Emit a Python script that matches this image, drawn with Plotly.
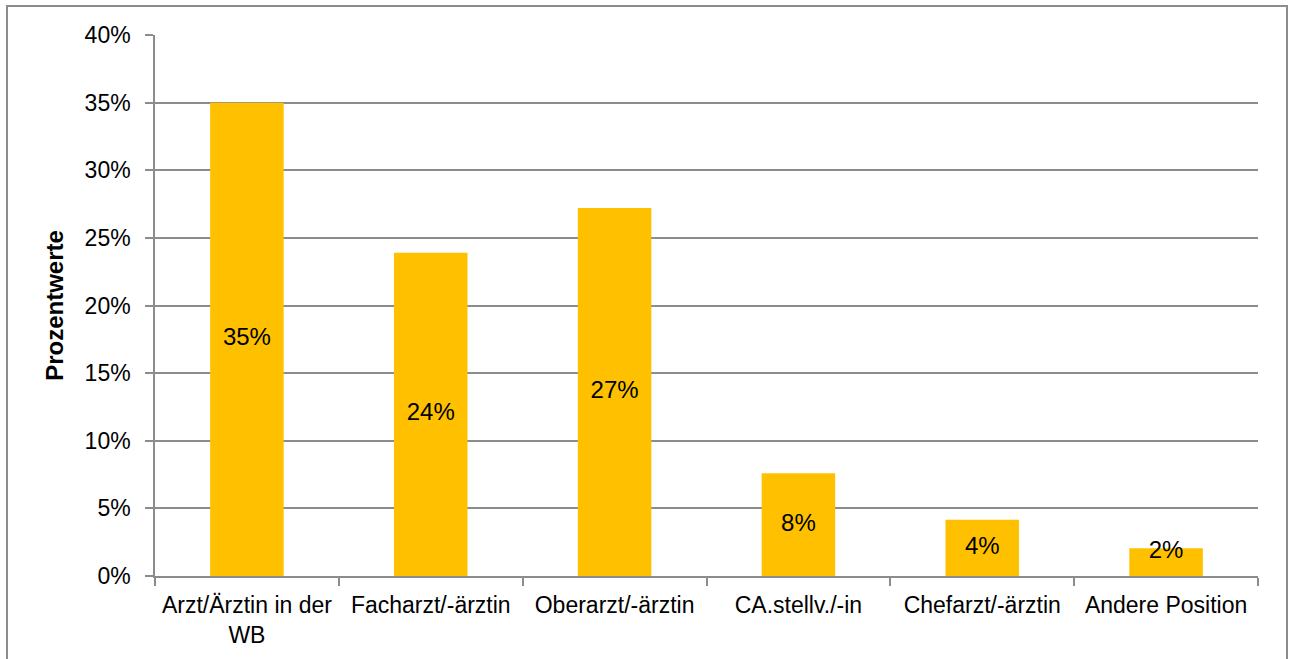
import plotly.graph_objects as go

categories = ["Arzt/Ärztin in der<br>WB", "Facharzt/-ärztin", "Oberarzt/-ärztin",
              "CA.stellv./-in", "Chefarzt/-ärztin", "Andere Position"]
values = [35.0, 23.9, 27.2, 7.6, 4.15, 2.05]
labels = ["35%", "24%", "27%", "8%", "4%", "2%"]
y_ticks = [0, 5, 10, 15, 20, 25, 30, 35, 40]

FONT = "Liberation Sans, Arial, sans-serif"
GRAY = "#8c8c8c"
FS = 23

label_pos = [max(v / 2, 1.8) for v in values]

fig = go.Figure()
fig.add_trace(go.Bar(x=categories, y=values, marker=dict(color="#FFC000", line=dict(width=0)),
                     hoverinfo="skip", showlegend=False))
fig.add_trace(go.Scatter(x=categories, y=label_pos, mode="text", text=labels,
                         textposition="middle center",
                         textfont=dict(family=FONT, size=24, color="#000000"),
                         hoverinfo="skip", showlegend=False))

fig.update_layout(
    width=1293, height=659,
    margin=dict(l=155, r=35, t=35, b=83),
    paper_bgcolor="white", plot_bgcolor="white",
    bargap=0.6,
    font=dict(family=FONT, size=FS, color="#000000"),
    xaxis=dict(
        type="category", showline=True, linecolor=GRAY, linewidth=1.5,
        ticks="outside", tickson="boundaries", ticklen=8, tickcolor=GRAY, tickwidth=1.5,
        tickfont=dict(family=FONT, size=FS, color="#000000"), ticklabelstandoff=8,
        showgrid=False, zeroline=False,
    ),
    yaxis=dict(
        range=[0, 40], tickvals=y_ticks, ticktext=[f"{t}%" for t in y_ticks],
        showline=True, linecolor=GRAY, linewidth=1.5,
        ticks="outside", ticklen=8, tickcolor=GRAY, tickwidth=1.5,
        showgrid=True, gridcolor=GRAY, gridwidth=1.5, zeroline=False,
        tickfont=dict(family=FONT, size=FS, color="#000000"), ticklabelstandoff=10,
        title=dict(text="<b>Prozentwerte</b>", font=dict(family=FONT, size=24, color="#000000"),
                   standoff=14),
    ),
    shapes=[dict(type="rect", xref="paper", yref="paper",
                 x0=-0.1342, x1=1.0263, y0=-0.17, y1=1.0536,
                 line=dict(color=GRAY, width=2), fillcolor="rgba(0,0,0,0)", layer="below")],
)

fig.write_html("out.html", config={"displayModeBar": False},
               post_script="document.body.style.margin='0px';")
